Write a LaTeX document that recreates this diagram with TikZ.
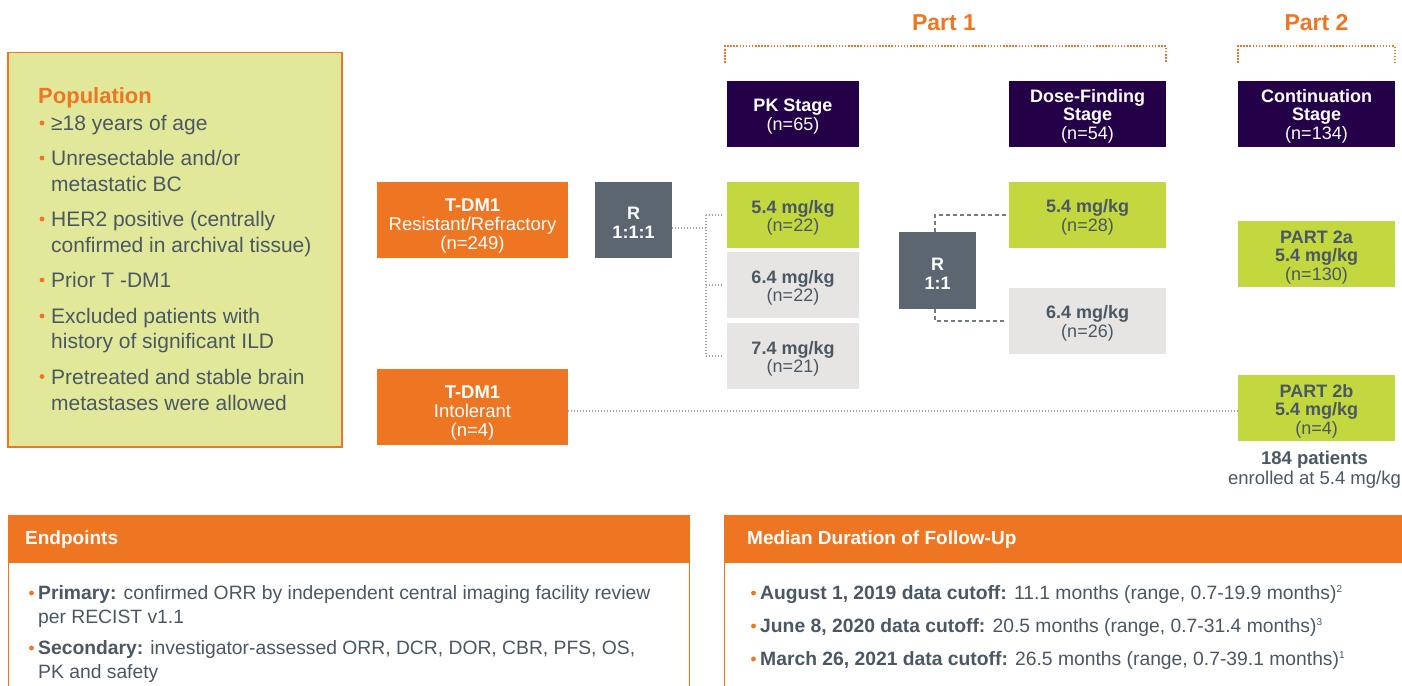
\documentclass[tikz,border=0pt]{standalone}
\usepackage{fontspec}
\setmainfont{Liberation Sans}
\definecolor{brand}{HTML}{EE7623}
\definecolor{lime}{HTML}{C3D83E}
\definecolor{plum}{HTML}{230048}
\definecolor{slate}{HTML}{5B6670}
\definecolor{pale}{HTML}{E6E5E3}
\definecolor{popfill}{HTML}{E2E899}
\definecolor{ink}{HTML}{4B5763}
\definecolor{dotgray}{HTML}{9EA3A8}
\definecolor{dashgray}{HTML}{737B83}
\newcommand\setsz[2]{\fontsize{#1}{#2}\selectfont}
% taller first line pushes a centred text block down a little
\newcommand\lift[1]{\rule{0pt}{#1}}
\newcommand\fnref[1]{\raisebox{7pt}{\setsz{10}{10}#1}}
\begin{document}
\begin{tikzpicture}[x=1pt,y=-1pt,
  box/.style={rectangle, inner sep=0pt, align=center, font=\setsz{18}{18.5}, text=ink},
  tdm/.style={box, fill=brand, text=white, minimum width=191pt, minimum height=76pt, font=\setsz{18.5}{19}},
  rbox/.style={box, fill=slate, text=white, minimum width=77pt, font=\bfseries\setsz{18}{19}},
  stage/.style={box, fill=plum, text=white, minimum height=66pt},
  dose/.style={box, minimum height=66pt},
  dotln/.style={draw=dotgray, line width=1.1pt, dash pattern=on 1.1pt off 1.9pt},
  dashln/.style={draw=dashgray, line width=1.2pt, dash pattern=on 4pt off 3pt},
  brk/.style={draw=brand, line width=2pt, dash pattern=on 1.5pt off 1.6pt},
  txtl/.style={anchor=base west, inner sep=0pt, text=ink},
  poptxt/.style={txtl, font=\setsz{21}{21}},
  bodytxt/.style={txtl, font=\setsz{19.3}{19.3}},
  dot/.style={circle, fill=brand, inner sep=0pt, minimum size=4.8pt},
  panel/.style={draw=brand, line width=1.3pt, fill=white, anchor=north west, minimum height=200pt, inner sep=0pt},
  panelhd/.style={fill=brand, anchor=north west, minimum height=48pt, inner sep=0pt},
  hdtxt/.style={txtl, text=white, font=\bfseries\setsz{19}{19}},
  partlbl/.style={text=brand, font=\bfseries\setsz{23}{23}, inner sep=0pt}
]
\useasboundingbox (0,0) rectangle (1402,685);
\clip (0,0) rectangle (1402,685);

% ---- population panel ----
\node[draw=brand, line width=1.5pt, fill=popfill, minimum width=334pt, minimum height=394pt,
      inner sep=0pt, anchor=north west] (pop) at (7,52) {};
\node[txtl, text=brand, font=\bfseries\setsz{22}{22}] (poptitle) at (38,103) {Population};
\node[dot] (pb1) at (42,123) {};
\node[poptxt] (pl1) at (51,130.5) {≥18 years of age};
\node[dot] (pb2) at (42,158) {};
\node[poptxt] (pl2) at (51,165.5) {Unresectable and/or};
\node[poptxt] (pl3) at (51,191.5) {metastatic BC};
\node[dot] (pb3) at (42,219) {};
\node[poptxt] (pl4) at (51,226.5) {HER2 positive (centrally};
\node[poptxt] (pl5) at (51,252.5) {confirmed in archival tissue)};
\node[dot] (pb4) at (42,280) {};
\node[poptxt] (pl6) at (51,287.5) {Prior T -DM1};
\node[dot] (pb5) at (42,316) {};
\node[poptxt] (pl7) at (51,323.5) {Excluded patients with};
\node[poptxt] (pl8) at (51,348.5) {history of significant ILD};
\node[dot] (pb6) at (42,376.5) {};
\node[poptxt] (pl9) at (51,384) {Pretreated and stable brain};
\node[poptxt] (pl10) at (51,410) {metastases were allowed};

% ---- part labels and brackets ----
\node[partlbl] (part1) at (944,23) {Part 1};
\node[partlbl] (part2) at (1316.5,23) {Part 2};
\coordinate (b1a) at (725,63);
\coordinate (b1b) at (1166,63);
\coordinate (b2a) at (1238,63);
\coordinate (b2b) at (1395,63);
\draw[brk] (b1a) -- ++(0,-16.5) -| (b1b);
\draw[brk] (b2a) -- ++(0,-16.5) -| (b2b);

% ---- stage headers ----
\node[stage, minimum width=132pt] (pk) at (793,114) {\lift{17.5pt}\textbf{PK Stage}\\(n=65)};
\node[stage, minimum width=157pt] (df) at (1087.5,114) {\lift{17.5pt}\textbf{Dose-Finding}\\\textbf{Stage}\\(n=54)};
\node[stage, minimum width=157pt] (cs) at (1316.5,114) {\lift{17.5pt}\textbf{Continuation}\\\textbf{Stage}\\(n=134)};

% ---- cohorts ----
\node[tdm] (tdr) at (472.5,220) {\lift{24pt}\textbf{T-DM1}\\Resistant/Refractory\\(n=249)};
\node[tdm] (tdi) at (472.5,407) {\lift{24pt}\textbf{T-DM1}\\Intolerant\\(n=4)};

% ---- randomisation ----
\node[rbox, minimum height=76pt] (r1) at (633.5,220) {\lift{18.5pt}R\\1:1:1};
\node[rbox, minimum height=77pt] (r2) at (937.5,270.5) {\lift{18.5pt}R\\1:1};

% ---- dose arms ----
\node[dose, fill=lime, minimum width=132pt] (d54) at (793,215) {\lift{19pt}\textbf{5.4 mg/kg}\\(n=22)};
\node[dose, fill=pale, minimum width=132pt] (d64) at (793,285) {\lift{19pt}\textbf{6.4 mg/kg}\\(n=22)};
\node[dose, fill=pale, minimum width=132pt] (d74) at (793,356) {\lift{19pt}\textbf{7.4 mg/kg}\\(n=21)};
\node[dose, fill=lime, minimum width=157pt] (f54) at (1087.5,215) {\lift{18pt}\textbf{5.4 mg/kg}\\(n=28)};
\node[dose, fill=pale, minimum width=157pt] (f64) at (1087.5,321) {\lift{18pt}\textbf{6.4 mg/kg}\\(n=26)};
\node[dose, fill=lime, minimum width=157pt] (p2a) at (1316.5,254) {\lift{19pt}\textbf{PART 2a}\\\textbf{5.4 mg/kg}\\(n=130)};
\node[dose, fill=lime, minimum width=157pt] (p2b) at (1316.5,408) {\lift{19pt}\textbf{PART 2b}\\\textbf{5.4 mg/kg}\\(n=4)};
\node[box, font=\setsz{18.5}{20}] (tot) at (1314.5,470) {\textbf{184 patients}\\enrolled at 5.4 mg/kg};

% ---- connectors ----
\coordinate (spine) at (706,228);
\draw[dotln] ([yshift=-8pt]r1.east) -- (spine);
\draw[dotln] (spine |- d54.west) -- (spine |- d74.west);
\foreach \d in {d54,d64,d74} \draw[dotln, shorten >=5pt] (spine |- \d.west) -- (\d.west);
\draw[dashln] ([xshift=-2.5pt]r2.north) |- ([xshift=-2pt]f54.west);
\draw[dashln] ([xshift=-2.5pt]r2.south) |- ([xshift=-2pt]f64.west);
\draw[dotln] ([yshift=-4pt]tdi.east) -- ([yshift=-4pt]tdi.east -| p2b.west);

% ---- endpoints panel ----
\node[panel, minimum width=681pt] (ep) at (8,515) {};
\node[panelhd, minimum width=681pt] (ephd) at (8,515) {};
\node[hdtxt] (eplbl) at (25,544.8) {Endpoints};
\node[dot] (eb1) at (31.5,593) {};
\node[bodytxt] (el1) at (38,599.8) {\textbf{Primary:} confirmed ORR by independent central imaging facility review};
\node[bodytxt] (el2) at (38,623.8) {per RECIST v1.1};
\node[dot] (eb2) at (31.5,648) {};
\node[bodytxt] (el3) at (38,654.8) {\textbf{Secondary:} investigator-assessed ORR, DCR, DOR, CBR, PFS, OS,};
\node[bodytxt] (el4) at (38,678.8) {PK and safety};

% ---- follow-up panel ----
\node[panel, minimum width=700pt] (fu) at (724,515) {};
\node[panelhd, minimum width=700pt] (fuhd) at (724,515) {};
\node[hdtxt] (fulbl) at (747,544.8) {Median Duration of Follow-Up};
\node[dot] (fb1) at (753.5,593) {};
\node[bodytxt] (fl1) at (760,599.8) {\textbf{August 1, 2019 data cutoff:} 11.1 months (range, 0.7-19.9 months)\fnref{2}};
\node[dot] (fb2) at (753.5,626) {};
\node[bodytxt] (fl2) at (760,632.8) {\textbf{June 8, 2020 data cutoff:} 20.5 months (range, 0.7-31.4 months)\fnref{3}};
\node[dot] (fb3) at (753.5,659) {};
\node[bodytxt] (fl3) at (760,665.8) {\textbf{March 26, 2021 data cutoff:} 26.5 months (range, 0.7-39.1 months)\fnref{1}};
\end{tikzpicture}
\end{document}
